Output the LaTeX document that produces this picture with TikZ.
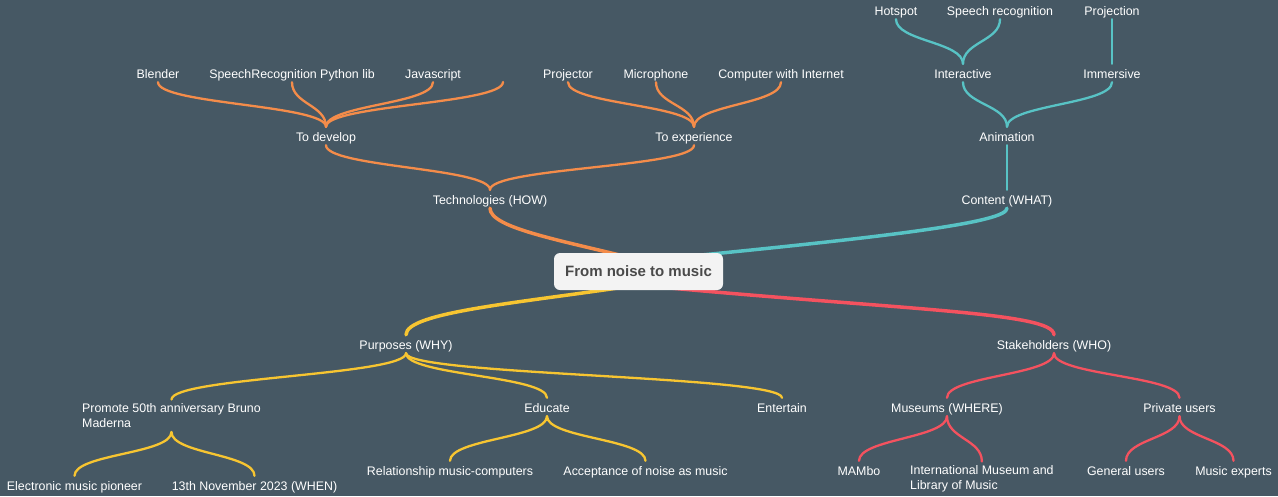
\documentclass[tikz,border=0pt]{standalone}
\usepackage{fontspec}
\setmainfont{Liberation Sans}
\definecolor{bg}{HTML}{465864}
\definecolor{cO}{HTML}{F48C4A}
\definecolor{cT}{HTML}{58C3C5}
\definecolor{cY}{HTML}{F7C531}
\definecolor{cR}{HTML}{F4525F}
\definecolor{rootbg}{HTML}{F3F3F3}
\definecolor{roottx}{HTML}{4A4A4A}
\newcommand\mmlink[4]{\draw[#1] (#2) .. controls +(0,#4) and +(0,-#4) .. (#3);}
\begin{document}
\begin{tikzpicture}[x=1pt,y=-1pt,
  lbl/.style={text=white, font=\fontsize{12.4}{15}\selectfont, inner xsep=0pt, inner ysep=3.25pt, text height=11pt, text depth=0.5pt},
  lbl2/.style={text=white, font=\fontsize{12.4}{15}\selectfont, inner xsep=0pt, inner ysep=4pt, align=left, anchor=north west},
  root/.style={fill=rootbg, rounded corners=6pt, minimum width=169pt, minimum height=37pt, inner sep=0pt, text=roottx, font=\fontsize{15}{18}\selectfont\bfseries},
  br/.style={line width=2.3pt, line cap=round},
  mb/.style={line width=3.5pt, line cap=round},
  bO/.style={br, cO}, bT/.style={br, cT}, bY/.style={br, cY}, bR/.style={br, cR}]
\fill[bg] (0,0) rectangle (1278,496);
\useasboundingbox (0,0) rectangle (1278,496);
% upper orange
\node[lbl] (blender) at (158,73) {Blender};
\node[lbl] (speechlib) at (292,73) {SpeechRecognition Python lib};
\node[lbl] (js) at (433,73) {Javascript};
\coordinate (blank) at (503,82);
\node[lbl] (projector) at (568,73) {Projector};
\node[lbl] (micro) at (656,73) {Microphone};
\node[lbl] (computer) at (781,73) {Computer with Internet};
\node[lbl] (develop) at (326,136) {To develop};
\node[lbl] (experience) at (694,136) {To experience};
\node[lbl] (tech) at (490,199) {Technologies (HOW)};
% upper teal
\node[lbl] (hotspot) at (896,10) {Hotspot};
\node[lbl] (speech) at (1000,10) {Speech recognition};
\node[lbl] (projection) at (1112,10) {Projection};
\node[lbl] (interactive) at (963,73) {Interactive};
\node[lbl] (immersive) at (1112,73) {Immersive};
\node[lbl] (animation) at (1007,136) {Animation};
\node[lbl] (content) at (1007,199) {Content (WHAT)};
% lower yellow
\node[lbl] (purposes) at (406,344) {Purposes (WHY)};
\node[lbl2] (promote) at (82,399.5) {Promote 50th anniversary Bruno\\Maderna};
\node[lbl] (educate) at (547,407) {Educate};
\node[lbl] (entertain) at (782,407) {Entertain};
\node[lbl] (pioneer) at (74.5,485) {Electronic music pioneer};
\node[lbl] (when) at (254.5,485) {13th November 2023 (WHEN)};
\node[lbl] (relation) at (450,470) {Relationship music-computers};
\node[lbl] (accept) at (645.5,470) {Acceptance of noise as music};
% lower red
\node[lbl] (stake) at (1054,344) {Stakeholders (WHO)};
\node[lbl] (museums) at (947,407) {Museums (WHERE)};
\node[lbl] (private) at (1179.5,407) {Private users};
\node[lbl] (mambo) at (859,470) {MAMbo};
\node[lbl2] (intl) at (910,461.5) {International Museum and\\Library of Music};
\node[lbl] (general) at (1126,470) {General users};
\node[lbl] (experts) at (1233.5,470) {Music experts};
% links orange
\mmlink{bO}{blender.south}{develop.north}{22}
\mmlink{bO}{speechlib.south}{develop.north}{22}
\mmlink{bO}{js.south}{develop.north}{22}
\mmlink{bO}{blank}{develop.north}{22}
\mmlink{bO}{projector.south}{experience.north}{22}
\mmlink{bO}{micro.south}{experience.north}{22}
\mmlink{bO}{computer.south}{experience.north}{22}
\mmlink{bO}{develop.south}{tech.north}{22}
\mmlink{bO}{experience.south}{tech.north}{22}
% links teal
\mmlink{bT}{hotspot.south}{interactive.north}{22}
\mmlink{bT}{speech.south}{interactive.north}{22}
\mmlink{bT}{projection.south}{immersive.north}{22}
\mmlink{bT}{interactive.south}{animation.north}{22}
\mmlink{bT}{immersive.south}{animation.north}{22}
\mmlink{bT}{animation.south}{content.north}{22}
% links yellow
\mmlink{bY}{purposes.south}{promote.north}{22}
\mmlink{bY}{purposes.south}{educate.north}{22}
\mmlink{bY}{purposes.south}{entertain.north}{22}
\mmlink{bY}{promote.south}{pioneer.north}{22}
\mmlink{bY}{promote.south}{when.north}{22}
\mmlink{bY}{educate.south}{relation.north}{22}
\mmlink{bY}{educate.south}{accept.north}{22}
% links red
\mmlink{bR}{stake.south}{museums.north}{22}
\mmlink{bR}{stake.south}{private.north}{22}
\mmlink{bR}{museums.south}{mambo.north}{22}
\mmlink{bR}{museums.south}{intl.north}{22}
\mmlink{bR}{private.south}{general.north}{22}
\mmlink{bR}{private.south}{experts.north}{22}
% main branches
\coordinate (rO) at (640,260);
\coordinate (rT) at (640,261);
\coordinate (rY) at (638,285);
\coordinate (rR) at (638,285);
\draw[mb, cO] (tech.south) .. controls (490,228) and (560,240) .. (rO);
\draw[mb, cT] (content.south) .. controls (1007,222) and (900,236) .. (rT);
\draw[mb, cY] (rY) .. controls (520,303) and (406,312) .. (purposes.north);
\draw[mb, cR] (rR) .. controls (900,310) and (1054,312) .. (stake.north);
\node[root] (root) at (638.5,271.5) {From noise to music};
\end{tikzpicture}
\end{document}
